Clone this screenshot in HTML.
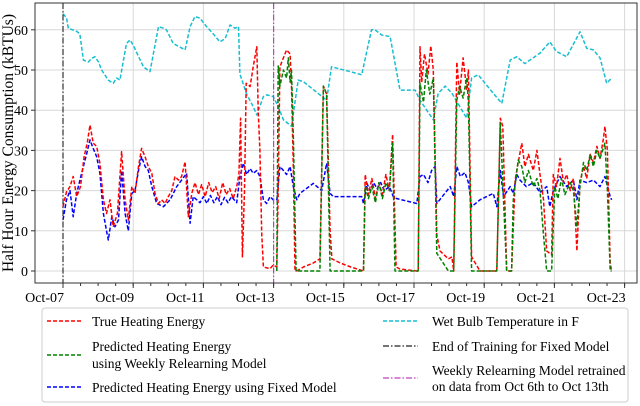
<!DOCTYPE html>
<html><head><meta charset="utf-8"><style>
body{margin:0;background:#fff;}
svg{display:block;font-family:"Liberation Serif",serif;}
</style></head><body>
<svg id="chart" width="640" height="406" viewBox="0 0 640 406">
<g id="grid"></g>
<g id="series" clip-path="url(#clip)"></g>
<defs><clipPath id="clip"><rect x="35" y="3" width="602" height="280"/></clipPath></defs>
<rect x="35" y="3" width="602" height="280" fill="none" stroke="#333" stroke-width="1"/>
<g id="axes" font-size="14" fill="#000"></g>
<text transform="translate(13,143) rotate(-90)" text-anchor="middle" font-size="15.5">Half Hour Energy Consumption (kBTUs)</text>
<g font-size="13.5">
<rect x="42" y="308" width="586" height="94" rx="3" fill="#fff" stroke="#ccc"/>
<g><line x1="47" y1="321" x2="82" y2="321" stroke="red" stroke-width="1.5" stroke-dasharray="4,2"/><text x="92" y="326">True Heating Energy</text></g>
<g><line x1="47" y1="355" x2="82" y2="355" stroke="green" stroke-width="1.5" stroke-dasharray="4,2"/><text x="92" y="351">Predicted Heating Energy</text><text x="92" y="368">using Weekly Relearning Model</text></g>
<g><line x1="47" y1="387" x2="82" y2="387" stroke="blue" stroke-width="1.5" stroke-dasharray="4,2"/><text x="92" y="392">Predicted Heating Energy using Fixed Model</text></g>
<g><line x1="383" y1="321" x2="418" y2="321" stroke="#17becf" stroke-width="1.5" stroke-dasharray="4,2"/><text x="432" y="326">Wet Bulb Temperature in F</text></g>
<g><line x1="383" y1="346" x2="418" y2="346" stroke="#222" stroke-width="1.2" stroke-dasharray="6,2,1.5,2"/><text x="432" y="351">End of Training for Fixed Model</text></g>
<g><line x1="383" y1="378" x2="418" y2="378" stroke="#c040c0" stroke-width="1.2" stroke-dasharray="6,2,1.5,2"/><text x="432" y="375">Weekly Relearning Model retrained</text><text x="432" y="391">on data from Oct 6th to Oct 13th</text></g>
</g>
</svg>
<script>
const yTicks=[0,10,20,30,40,50,60];
const xTickDays=[0,2,4,6,8,10,12,14,16];
const xTickLabels=["Oct-07","Oct-09","Oct-11","Oct-13","Oct-15","Oct-17","Oct-19","Oct-21","Oct-23"];
const endTrainingDay=0;
const retrainDay=6;
const trueHeating=[[0,16],[.10,19.7],[.20,21],[.29,23.5],[.39,18.5],[.50,21],[.60,28.4],[.69,31.8],[.77,36.3],[.86,31.8],[.96,31],[1.05,26.8],[1.15,17.7],[1.24,14.3],[1.34,17.7],[1.43,11],[1.55,14.3],[1.67,29.7],[1.77,17.7],[1.86,12.7],[1.96,21],[2.05,19.3],[2.15,26],[2.24,30.5],[2.34,28.4],[2.43,26],[2.53,24.3],[2.62,19.3],[2.72,16.8],[2.81,17.7],[2.91,16.8],[3.00,18.5],[3.10,20],[3.19,23.5],[3.29,22.6],[3.38,23.5],[3.48,27.2],[3.57,13.5],[3.67,19.3],[3.76,22],[3.86,19],[3.95,21.5],[4.05,18.5],[4.15,22],[4.25,19.5],[4.35,21],[4.45,18],[4.55,22],[4.65,19],[4.75,20.5],[4.85,18],[4.95,21],[5.01,24],[5.06,38],[5.11,3.5],[5.17,20],[5.22,46.7],[5.33,45.9],[5.42,50.8],[5.52,55.8],[5.56,40],[5.61,30],[5.66,9.4],[5.71,1],[5.80,0.8],[5.90,0.6],[5.99,1.5],[6.09,1],[6.13,20],[6.18,50.8],[6.28,53],[6.37,55],[6.47,54],[6.51,46],[6.56,26],[6.61,0.2],[6.66,0],[6.85,1],[7.13,2],[7.32,3],[7.42,46],[7.51,44],[7.61,10],[7.66,3],[7.90,2],[8.20,1],[8.56,0],[8.61,24],[8.70,19],[8.80,23],[8.90,18],[9.00,22],[9.10,19],[9.20,24],[9.30,20],[9.39,34],[9.49,1],[9.60,0.5],[10.08,0],[10.12,0],[10.17,55.8],[10.22,47],[10.30,54],[10.40,49],[10.48,56],[10.55,50],[10.65,9],[10.74,5],[10.98,3],[11.08,3.5],[11.13,0],[11.22,52],[11.30,44],[11.40,53],[11.50,45],[11.55,50],[11.64,3.5],[11.88,0],[12.36,0],[12.46,38],[12.53,36],[12.64,0],[12.78,0],[12.88,22.6],[12.97,27],[13.07,31.8],[13.16,26],[13.26,29],[13.40,25],[13.50,30],[13.59,24],[13.69,17.7],[13.78,5],[13.92,4],[13.97,24],[14.06,21],[14.16,28],[14.26,22],[14.35,24],[14.45,20],[14.54,23],[14.64,5],[14.73,22],[14.83,26],[14.92,23],[15.02,29],[15.11,27],[15.21,31],[15.30,28],[15.40,33],[15.44,36],[15.51,30],[15.59,2],[15.63,0]];
const weeklyPred=[[6.09,0],[6.13,51],[6.18,46],[6.28,50],[6.37,48],[6.42,53],[6.47,47],[6.51,50],[6.56,34],[6.64,0],[7.32,0],[7.42,46],[7.51,44],[7.61,0],[8.56,0],[8.61,21],[8.70,18],[8.80,21],[8.90,17],[9.00,22],[9.10,18],[9.20,22],[9.30,20],[9.39,31.8],[9.46,0],[10.12,0],[10.17,46.7],[10.27,42],[10.35,50],[10.45,44],[10.55,48],[10.60,26],[10.65,4.4],[10.98,0],[11.13,0],[11.22,42.5],[11.30,46],[11.40,43],[11.50,48],[11.55,42],[11.64,0],[12.36,0],[12.46,36.8],[12.55,17.7],[12.64,0],[12.78,0],[12.83,17.7],[12.97,27.6],[13.07,26],[13.16,22],[13.26,25],[13.40,21],[13.50,23],[13.59,20],[13.69,9],[13.78,0],[13.92,0],[14.01,21],[14.10,18],[14.20,23],[14.30,19],[14.45,22],[14.54,20],[14.64,11],[14.73,21],[14.83,27],[14.92,25],[15.02,29],[15.11,26],[15.21,30],[15.30,28],[15.44,31.8],[15.51,20],[15.59,0],[15.63,0]];
const fixedPred=[[0,12.7],[.10,17.7],[.20,20],[.29,13.5],[.39,19.3],[.53,24.3],[.67,29],[.77,32.6],[.86,30.5],[.96,28.4],[1.05,24.3],[1.15,14.3],[1.24,10],[1.29,7.7],[1.39,13.5],[1.48,11],[1.58,12.7],[1.67,25],[1.77,14.3],[1.86,10],[1.96,19.3],[2.05,20],[2.15,25],[2.24,28.4],[2.34,26],[2.43,25],[2.53,21],[2.67,16.8],[2.86,16],[3.05,17.7],[3.24,21],[3.38,22.6],[3.52,24.3],[3.62,11.9],[3.71,18.5],[3.90,17],[4.00,18.5],[4.10,16.8],[4.20,18.8],[4.30,17],[4.40,18.5],[4.50,16.5],[4.60,18.3],[4.70,17],[4.80,18.5],[4.95,17],[5.04,23.5],[5.14,26.8],[5.23,24],[5.33,25.5],[5.42,24.3],[5.52,25],[5.61,23.5],[5.71,17.7],[5.80,16.8],[5.90,18.5],[5.99,17.7],[6.09,17.7],[6.18,26],[6.28,25],[6.37,24],[6.47,26],[6.56,21],[6.66,17.7],[6.75,19.3],[7.13,21.8],[7.37,20],[7.51,26.8],[7.61,19.3],[7.70,18.5],[8.18,18.5],[8.51,18.5],[8.56,16.8],[8.66,21.8],[8.75,20],[8.85,22],[8.95,20.5],[9.05,22],[9.15,20],[9.30,21],[9.41,18.5],[9.51,18],[10.08,16.8],[10.17,23.5],[10.27,24],[10.40,22],[10.50,25],[10.60,26],[10.65,16.8],[11.03,21],[11.13,18.5],[11.22,26],[11.32,23.5],[11.45,24.5],[11.55,22],[11.64,16],[11.88,17.7],[12.26,19.3],[12.36,16],[12.46,25],[12.55,18.5],[12.74,21],[12.83,19.3],[12.93,24],[13.02,22.6],[13.20,21],[13.40,22],[13.59,19.5],[13.78,21],[13.87,16],[13.97,20],[14.16,23.5],[14.35,21],[14.54,22.6],[14.64,17.7],[14.73,22.6],[14.92,22],[15.11,22.6],[15.30,21],[15.44,23.5],[15.59,18.5],[15.63,17.7]];
const wetBulb=[[0,64],[.10,63],[.15,60.4],[.39,59.6],[.48,59],[.58,52.5],[.72,52],[.82,52.9],[.91,53.3],[1.01,52],[1.10,50],[1.29,47.5],[1.43,46.7],[1.53,48],[1.62,47.5],[1.81,56.6],[1.91,57.5],[2.00,56.2],[2.29,50.8],[2.48,49.6],[2.72,60.8],[2.86,60.4],[2.95,60],[3.14,56.6],[3.48,55],[3.62,60.8],[3.76,63.3],[3.90,62.9],[4.09,60.8],[4.28,59],[4.47,57],[4.62,57.8],[4.76,61.2],[4.90,60.4],[5.00,60.8],[5.04,49],[5.23,44],[5.42,40.9],[5.52,38.8],[5.71,43.4],[5.80,43.8],[5.99,43.4],[6.13,40.9],[6.28,37.6],[6.51,36],[6.70,47.5],[6.85,47.1],[7.51,42.5],[7.65,50.8],[8.18,49.6],[8.51,48.8],[8.79,60],[8.89,60],[9.08,58.7],[9.32,58.3],[9.60,45],[10.03,45],[10.17,42.5],[10.55,37.6],[10.69,44.2],[10.89,46],[11.08,44.2],[11.50,38],[11.64,48],[11.83,48.8],[12.26,44.2],[12.50,41.7],[12.74,52.5],[12.93,53.3],[13.16,51.6],[13.59,54.2],[13.87,57],[14.06,54.6],[14.35,53.3],[14.73,59.5],[14.92,55.4],[15.11,55],[15.30,53],[15.49,46.7],[15.63,48]];

const NS="http://www.w3.org/2000/svg";
function xs(d){return 63+35.1*d;}
function ys(v){return 271-4.02*v;}
function mk(tag,attrs,parent){const e=document.createElementNS(NS,tag);for(const k in attrs)e.setAttribute(k,attrs[k]);parent.appendChild(e);return e;}
const grid=document.getElementById('grid'),axes=document.getElementById('axes'),ser=document.getElementById('series');
yTicks.forEach(v=>{
  const g=mk('line',{x1:35,x2:637,y1:ys(v),y2:ys(v),stroke:'#d8d8d8','stroke-width':1},grid);
  
  
  const t=mk('line',{x1:31,x2:35,y1:ys(v),y2:ys(v),stroke:'#333'},axes);
  
  
  const l=mk('text',{x:28,y:ys(v)+5,'text-anchor':'end'},axes);
  l.textContent=v;
  
  
});
for(let d=0.5;d<16.5;d+=0.5){
  const m=mk('line',{x1:xs(d),x2:xs(d),y1:283,y2:286,stroke:'#333'},axes);
  
  
}
xTickDays.forEach((d,i)=>{
  const g=mk('line',{x1:xs(d),x2:xs(d),y1:3,y2:283,stroke:'#d8d8d8','stroke-width':1},grid);
  
  
  const t=mk('line',{x1:xs(d),x2:xs(d),y1:283,y2:288,stroke:'#333'},axes);
  
  
  const l=mk('text',{x:xs(d)+1,y:302,'text-anchor':'end'},axes);
  l.textContent=xTickLabels[i];
  
  
});
function line(data,color,name){
  const p=mk('polyline',{points:data.map(q=>xs(q[0]).toFixed(1)+','+ys(q[1]).toFixed(1)).join(' '),fill:'none',stroke:color,'stroke-width':1.5,'stroke-dasharray':'4,2','stroke-linejoin':'round'},ser);
  
  
}
line(wetBulb,'#17becf','wet-bulb-line');
line(fixedPred,'blue','fixed-model-line');
line(trueHeating,'red','true-heating-line');
line(weeklyPred,'green','weekly-relearning-line');
const v1=mk('line',{x1:xs(endTrainingDay),x2:xs(endTrainingDay),y1:3,y2:283,stroke:'#333','stroke-width':1.2,'stroke-dasharray':'6,2,1.5,2'},ser);


const v2=mk('line',{x1:xs(retrainDay),x2:xs(retrainDay),y1:3,y2:283,stroke:'#c040c0','stroke-width':1.2,'stroke-dasharray':'6,2,1.5,2'},ser);


</script>
</body></html>
